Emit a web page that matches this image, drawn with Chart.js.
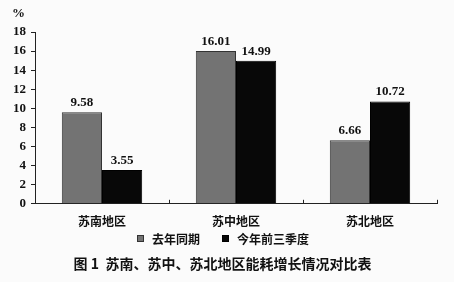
<!DOCTYPE html>
<html>
<head>
<meta charset="utf-8">
<script src="https://cdn.jsdelivr.net/npm/chart.js@4/dist/chart.umd.min.js"></script>
<style>
html,body{margin:0;padding:0;background:#fbfbfb;}
#wrap{width:454px;height:282px;position:relative;}
</style>
</head>
<body>
<div id="wrap"><canvas id="c" width="454" height="282"></canvas></div>
<script>
const categories = ['苏南地区', '苏中地区', '苏北地区'];
const lastYear = [9.58, 16.01, 6.66];
const thisYear = [3.55, 14.99, 10.72];
const seriesNames = ['去年同期', '今年前三季度'];
const yTicks = [0, 2, 4, 6, 8, 10, 12, 14, 16, 18];
const titleText = '图 1  苏南、苏中、苏北地区能耗增长情况对比表';
const unitText = '%';

const serif = '"Liberation Serif", "Times New Roman", serif';
const cjk = '"Noto Sans CJK SC", sans-serif';

const extras = {
  id: 'extras',
  afterDatasetsDraw(chart) {
    const ctx = chart.ctx;
    ctx.save();
    // data labels
    ctx.fillStyle = '#111';
    ctx.font = 'bold 13px ' + serif;
    ctx.textAlign = 'center';
    ctx.textBaseline = 'bottom';
    chart.data.datasets.forEach((ds, di) => {
      const meta = chart.getDatasetMeta(di);
      meta.data.forEach((bar, i) => {
        ctx.fillText(ds.data[i].toFixed(2), bar.x, bar.y - 3);
      });
    });
    // upward ticks at category boundaries on x axis
    const xs = chart.scales.x;
    const n = chart.data.labels.length;
    ctx.strokeStyle = '#222';
    ctx.lineWidth = 1;
    for (let i = 1; i <= n; i++) {
      const px = Math.round(xs.left + i * xs.width / n) + 0.5;
      ctx.beginPath();
      ctx.moveTo(px, xs.top);
      ctx.lineTo(px, xs.top - 4);
      ctx.stroke();
    }
    // unit label
    ctx.font = 'bold 13px ' + serif;
    ctx.textAlign = 'left';
    ctx.textBaseline = 'middle';
    ctx.fillText(unitText, 12, 14);
    // legend
    const items = [
      { name: chart.data.datasets[0].label, color: chart.data.datasets[0].backgroundColor, border: chart.data.datasets[0].borderColor },
      { name: chart.data.datasets[1].label, color: chart.data.datasets[1].backgroundColor, border: chart.data.datasets[1].borderColor }
    ];
    ctx.font = 'bold 12px ' + cjk;
    const box = 7, gapBox = 8, gapItem = 22;
    let total = 0;
    items.forEach((it, k) => {
      it.w = ctx.measureText(it.name).width;
      total += box + gapBox + it.w + (k < items.length - 1 ? gapItem : 0);
    });
    let x = Math.round(223 - total / 2);
    const ly = 239;
    items.forEach(it => {
      ctx.fillStyle = it.color;
      ctx.fillRect(x, ly - 4, box, box);
      ctx.strokeStyle = it.border;
      ctx.strokeRect(x + 0.5, ly - 3.5, box - 1, box - 1);
      ctx.fillStyle = '#111';
      ctx.textAlign = 'left';
      ctx.textBaseline = 'middle';
      ctx.fillText(it.name, x + box + gapBox, ly);
      x += box + gapBox + it.w + gapItem;
    });
    ctx.restore();
  }
};

new Chart(document.getElementById('c'), {
  type: 'bar',
  data: {
    labels: categories,
    datasets: [
      { label: seriesNames[0], data: lastYear, backgroundColor: '#737373', borderColor: '#333', borderWidth: 1, barPercentage: 1.0, categoryPercentage: 0.6 },
      { label: seriesNames[1], data: thisYear, backgroundColor: '#080808', borderColor: '#000', borderWidth: 1, barPercentage: 1.0, categoryPercentage: 0.6 }
    ]
  },
  options: {
    responsive: false,
    animation: false,
    devicePixelRatio: 1,
    layout: { padding: { left: 8, right: 17, top: 32, bottom: 0 } },
    scales: {
      x: {
        grid: { display: false, drawTicks: false },
        border: { display: true, color: '#222', width: 1 },
        ticks: { color: '#111', font: { family: cjk, size: 12, weight: 'bold' }, padding: 10 }
      },
      y: {
        min: 0, max: 18,
        afterBuildTicks(scale) { scale.ticks = yTicks.map(v => ({ value: v })); },
        grid: { drawOnChartArea: false, drawTicks: true, tickLength: 4, color: '#222' },
        border: { display: true, color: '#222', width: 1 },
        ticks: { autoSkip: false, color: '#111', font: { family: serif, size: 13, weight: 'bold' }, padding: 5 }
      }
    },
    plugins: {
      legend: { display: false },
      title: {
        display: true,
        position: 'bottom',
        text: titleText,
        color: '#111',
        font: { family: cjk, size: 14, weight: 'bold' },
        padding: { top: 17, bottom: 10 }
      },
      tooltip: { enabled: false }
    }
  },
  plugins: [extras]
});
</script>
</body>
</html>
